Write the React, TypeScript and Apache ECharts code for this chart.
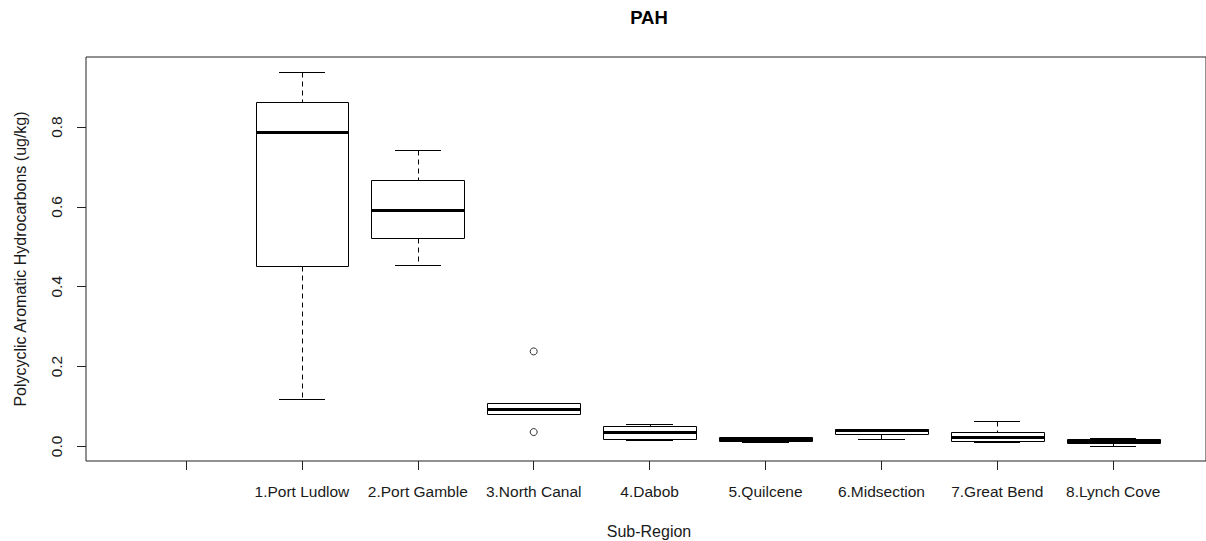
import React, { useEffect, useRef } from "react";
import * as echarts from "echarts";

// Categories (first position is an empty group, as in the original R plot)
const categories = [
  "",
  "1.Port Ludlow",
  "2.Port Gamble",
  "3.North Canal",
  "4.Dabob",
  "5.Quilcene",
  "6.Midsection",
  "7.Great Bend",
  "8.Lynch Cove",
];

// Box statistics for categories 1..8 (index 1..8 in categories)
const boxIndex = [1, 2, 3, 4, 5, 6, 7, 8];
const lowWhisker = [0.118, 0.454, 0.081, 0.016, 0.012, 0.0186, 0.011, 0.001];
const q1 = [0.451, 0.523, 0.081, 0.0186, 0.0143, 0.031, 0.0135, 0.0075];
const median = [0.787, 0.593, 0.095, 0.037, 0.019, 0.041, 0.0236, 0.0126];
const q3 = [0.864, 0.667, 0.11, 0.05, 0.0236, 0.0444, 0.036, 0.0186];
const highWhisker = [0.938, 0.742, 0.11, 0.057, 0.0236, 0.0444, 0.0645, 0.021];

// Outliers: [category index, value]
const outliers = [
  [3, 0.238],
  [3, 0.036],
];

const yTicks = [0, 0.2, 0.4, 0.6, 0.8];
const xTicks = [0, 1, 2, 3, 4, 5, 6, 7, 8];

const FONT = "'Liberation Sans', Arial, sans-serif";
const INK = "#1a1a1a";

export default function App() {
  const ref = useRef<HTMLDivElement>(null);

  useEffect(() => {
    if (!ref.current) return;
    const chart = echarts.init(ref.current, undefined, { renderer: "svg" });

    const boxData = boxIndex.map((ci, i) => [
      ci,
      lowWhisker[i],
      q1[i],
      median[i],
      q3[i],
      highWhisker[i],
    ]);

    const crisp = (v: number) => Math.round(v) + 0.5;

    const option: any = {
      animation: false,
      backgroundColor: "#ffffff",
      grid: {
        left: 86,
        top: 57,
        right: 0,
        height: 404,
        show: true,
        borderColor: "#222",
        borderWidth: 1,
        backgroundColor: "transparent",
      },
      xAxis: {
        type: "value",
        min: -0.863,
        max: 8.801,
        splitLine: { show: false },
        axisLine: { show: false, onZero: false },
        axisTick: {
          show: true,
          customValues: xTicks,
          length: 9,
          lineStyle: { color: "#222", width: 1 },
        },
        axisLabel: {
          customValues: xTicks,
          formatter: (v: number) => categories[Math.round(v)] ?? "",
          fontFamily: FONT,
          fontSize: 15.5,
          color: INK,
          margin: 22,
        },
      },
      yAxis: {
        type: "value",
        min: -0.0365,
        max: 0.9755,
        splitLine: { show: false },
        axisLine: { show: false, onZero: false },
        axisTick: {
          show: true,
          customValues: yTicks,
          length: 9,
          lineStyle: { color: "#222", width: 1 },
        },
        axisLabel: {
          customValues: yTicks,
          formatter: (v: number) => v.toFixed(1),
          rotate: 90,
          fontFamily: FONT,
          fontSize: 15.5,
          color: INK,
          margin: 22,
        },
      },
      graphic: [
        {
          type: "text",
          x: 649,
          y: 17,
          style: {
            text: "PAH",
            font: `bold 18.5px ${FONT}`,
            fill: "#000",
            textAlign: "center",
            textVerticalAlign: "middle",
          },
        },
        {
          type: "text",
          x: 649,
          y: 531,
          style: {
            text: "Sub-Region",
            font: `16px ${FONT}`,
            fill: INK,
            textAlign: "center",
            textVerticalAlign: "middle",
          },
        },
        {
          type: "text",
          x: 20,
          y: 259,
          rotation: Math.PI / 2,
          style: {
            text: "Polycyclic Aromatic Hydrocarbons (ug/kg)",
            font: `16px ${FONT}`,
            fill: INK,
            textAlign: "center",
            textVerticalAlign: "middle",
          },
        },
      ],
      series: [
        {
          type: "custom",
          data: boxData,
          encode: { x: 0, y: [1, 2, 3, 4, 5] },
          clip: false,
          renderItem: (params: any, api: any) => {
            const x = api.value(0);
            const lo = api.coord([x, api.value(1)]);
            const b1 = api.coord([x, api.value(2)]);
            const md = api.coord([x, api.value(3)]);
            const b3 = api.coord([x, api.value(4)]);
            const hi = api.coord([x, api.value(5)]);
            const w = api.size([0.8, 0])[0];
            const half = w / 2;
            const cap = w / 4;
            const cx = crisp(lo[0]);
            const left = Math.round(lo[0] - half) + 0.5;
            const right = Math.round(lo[0] + half) + 0.5;
            const top = crisp(b3[1]);
            const bottom = crisp(b1[1]);
            const stroke = { stroke: "#000", lineWidth: 1, fill: null };
            const dashed = { stroke: "#000", lineWidth: 1, lineDash: [5, 4] };
            return {
              type: "group",
              children: [
                {
                  type: "line",
                  shape: { x1: cx, y1: crisp(hi[1]), x2: cx, y2: top },
                  style: dashed,
                },
                {
                  type: "line",
                  shape: { x1: cx, y1: bottom, x2: cx, y2: crisp(lo[1]) },
                  style: dashed,
                },
                {
                  type: "line",
                  shape: {
                    x1: Math.round(lo[0] - cap),
                    y1: crisp(hi[1]),
                    x2: Math.round(lo[0] + cap),
                    y2: crisp(hi[1]),
                  },
                  style: stroke,
                },
                {
                  type: "line",
                  shape: {
                    x1: Math.round(lo[0] - cap),
                    y1: crisp(lo[1]),
                    x2: Math.round(lo[0] + cap),
                    y2: crisp(lo[1]),
                  },
                  style: stroke,
                },
                {
                  type: "rect",
                  shape: {
                    x: left,
                    y: top,
                    width: right - left,
                    height: Math.max(bottom - top, 0),
                  },
                  style: { stroke: "#000", lineWidth: 1, fill: "#fff" },
                },
                {
                  type: "line",
                  shape: {
                    x1: left,
                    y1: Math.round(md[1]) + 0.5,
                    x2: right,
                    y2: Math.round(md[1]) + 0.5,
                  },
                  style: { stroke: "#000", lineWidth: 3 },
                },
              ],
            };
          },
        },
        {
          type: "scatter",
          data: outliers,
          symbol: "circle",
          symbolSize: 7,
          itemStyle: { color: "#fff", borderColor: "#000", borderWidth: 1 },
        },
      ],
    };

    chart.setOption(option);
    return () => chart.dispose();
  }, []);

  return (
    <div
      ref={ref}
      style={{ position: "absolute", left: 0, top: 0, width: 1206, height: 541 }}
    />
  );
}
